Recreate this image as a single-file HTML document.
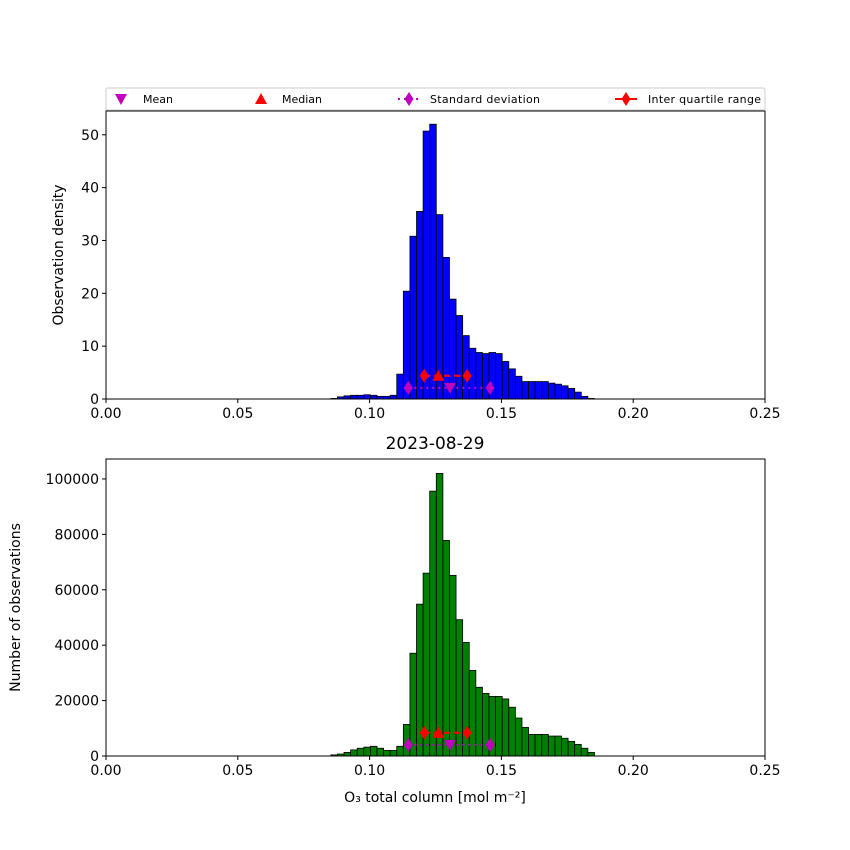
<!DOCTYPE html>
<html><head><meta charset="utf-8"><style>
html,body{margin:0;padding:0;background:#fff}
svg{display:block;font-family:"DejaVu Sans","Liberation Sans",sans-serif}
</style></head><body>
<svg id="chart" width="850" height="850" viewBox="0 0 850 850"></svg>
<script>
const binStart = 0.0853;
const binWidth = 0.0025;
const densityValues = [0.1,0.4,0.6,0.7,0.7,0.8,0.7,0.5,0.5,0.7,4.7,20.4,30.8,35.5,50.7,52.0,34.9,26.8,18.9,15.8,12.0,9.6,8.8,8.6,8.8,8.6,7.1,5.7,4.3,3.3,3.3,3.3,3.3,3.0,2.8,2.5,2.0,1.3,0.5,0.1];
const countValues = [400,700,1300,2200,2800,3200,3500,2800,2000,2000,3500,11400,37100,54800,66000,95600,102000,77800,65200,49200,41000,30900,24800,22600,21500,21500,20600,17600,13700,10300,7800,7800,7800,7200,7200,6400,5300,4200,2800,1300];
const xTicks = [0,0.05,0.10,0.15,0.20,0.25];
const xTickLabels = ["0.00","0.05","0.10","0.15","0.20","0.25"];
const densityTicks = [0,10,20,30,40,50];
const countTicks = [0,20000,40000,60000,80000,100000];
const statsX = {mean:0.1305, median:0.1261, sdLow:0.1147, sdHigh:0.1457, q1:0.1207, q3:0.137};
const densityStatY = {iqr:4.4, sd:2.1};
const countStatY = {iqr:8400, sd:4000};

const NS="http://www.w3.org/2000/svg";
const svg=document.getElementById('chart');
function mk(tag,attrs,parent){const e=document.createElementNS(NS,tag);for(const k in attrs)e.setAttribute(k,attrs[k]);(parent||svg).appendChild(e);return e;}
const X0=106,X1=765;
const xs=v=>X0+(v-0)/(0.25)*(X1-X0);

function diamond(cx,cy,color,g){const d=mk('polygon',{points:`${cx},${cy-7} ${cx+4.5},${cy} ${cx},${cy+7} ${cx-4.5},${cy}`,fill:color},g);return d;}
function tri(cx,cy,up,color,g){const p=up?`${cx},${cy-6} ${cx+6},${cy+5} ${cx-6},${cy+5}`:`${cx-6},${cy-5} ${cx+6},${cy-5} ${cx},${cy+6}`;return mk('polygon',{points:p,fill:color},g);}

function panel(name,top,bottom,ymax,values,color,yticks,ylabel,ylabelX,statY){
  const ys=v=>bottom-v/ymax*(bottom-top);
  const g=mk('g',{});
  
  
  values.forEach((v,i)=>{
    const x=xs(binStart+i*binWidth), x2=xs(binStart+(i+1)*binWidth);
    const r=mk('rect',{x:x,y:ys(v),width:x2-x,height:bottom-ys(v),fill:color,stroke:'#000','stroke-width':0.8},g);
    
    
  });
  const sdy=ys(statY.sd), iqy=ys(statY.iqr);
  const sdl=mk('line',{x1:xs(statsX.sdLow),x2:xs(statsX.sdHigh),y1:sdy,y2:sdy,stroke:'#bf00bf','stroke-width':2.2,'stroke-dasharray':'2,4'},g);
  
  
  diamond(xs(statsX.sdLow),sdy,'#bf00bf',g);diamond(xs(statsX.sdHigh),sdy,'#bf00bf',g);
  const mt=tri(xs(statsX.mean),sdy,false,'#bf00bf',g);
  
  
  const iql=mk('line',{x1:xs(statsX.q1),x2:xs(statsX.q3),y1:iqy,y2:iqy,stroke:'#ff0000','stroke-width':2.2,'stroke-dasharray':'6,4'},g);
  
  
  diamond(xs(statsX.q1),iqy,'#ff0000',g);diamond(xs(statsX.q3),iqy,'#ff0000',g);
  const md=tri(xs(statsX.median),iqy,true,'#ff0000',g);
  
  
  mk('rect',{x:X0,y:top,width:X1-X0,height:bottom-top,fill:'none',stroke:'#000','stroke-width':1},g);
  xTicks.forEach((t,i)=>{
    mk('line',{x1:xs(t),x2:xs(t),y1:bottom,y2:bottom+4,stroke:'#000'},g);
    const tx=mk('text',{x:xs(t),y:bottom+19,'font-size':14,'text-anchor':'middle'},g);tx.textContent=xTickLabels[i];
    
    
  });
  yticks.forEach(t=>{
    mk('line',{x1:X0-4,x2:X0,y1:ys(t),y2:ys(t),stroke:'#000'},g);
    const tx=mk('text',{x:X0-7,y:ys(t)+5,'font-size':14,'text-anchor':'end'},g);tx.textContent=t;
    
    
  });
  const yl=mk('text',{x:ylabelX,y:(top+bottom)/2,'font-size':14,'text-anchor':'middle',transform:`rotate(-90 ${ylabelX} ${(top+bottom)/2})`},g);
  yl.textContent=ylabel;
  
  
}
panel('density',111,399,54.5,densityValues,'#0000ff',densityTicks,'Observation density',63,densityStatY);
panel('count',459,756,107200,countValues,'#008000',countTicks,'Number of observations',20,countStatY);

const title=mk('text',{x:435,y:449,'font-size':17,'text-anchor':'middle'});
title.textContent='2023-08-29';


const xl=mk('text',{x:435,y:802,'font-size':14,'text-anchor':'middle'});
xl.textContent='O₃ total column [mol m⁻²]';



const lg=mk('g',{});


mk('rect',{x:106,y:88,width:659,height:22,rx:2,fill:'#fff',stroke:'#ccc'},lg);
const ly=99;
tri(121,ly,false,'#bf00bf',lg);
tri(261,ly,true,'#ff0000',lg);
mk('line',{x1:398,x2:420,y1:ly,y2:ly,stroke:'#bf00bf','stroke-width':2,'stroke-dasharray':'2,4'},lg);
diamond(409,ly,'#bf00bf',lg);
mk('line',{x1:615,x2:637,y1:ly,y2:ly,stroke:'#ff0000','stroke-width':2},lg);
diamond(626,ly,'#ff0000',lg);
[['Mean',143],['Median',282],['Standard deviation',430],['Inter quartile range',648]].forEach(([t,x])=>{
  const e=mk('text',{x:x,y:ly+4,'font-size':11,textLength:t.length>10?(t.length>18?113:110):null},lg);
  if(!e.getAttribute('textLength')||e.getAttribute('textLength')==='null')e.removeAttribute('textLength');
  e.textContent=t;
  
  
});
</script>
</body></html>
